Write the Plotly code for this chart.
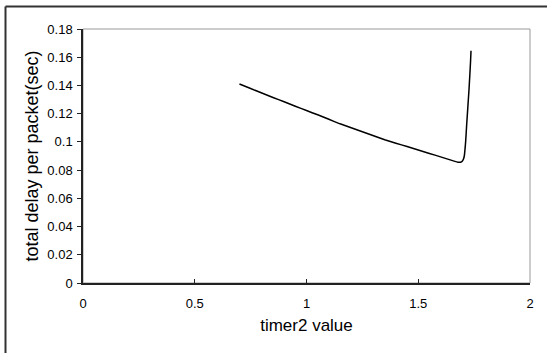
import plotly.graph_objects as go

timer2 = [0.70, 0.75, 0.80, 0.85, 0.90, 0.95, 1.00, 1.05, 1.10, 1.15, 1.20, 1.25,
          1.30, 1.35, 1.40, 1.45, 1.50, 1.55, 1.60, 1.65, 1.68, 1.695, 1.702,
          1.706, 1.712, 1.717, 1.722, 1.727, 1.731, 1.734, 1.736]
delay = [0.1410, 0.1378, 0.1346, 0.1315, 0.1284, 0.1253, 0.1222, 0.1192, 0.1160,
         0.1128, 0.1100, 0.1072, 0.1044, 0.1015, 0.0991, 0.0967, 0.0943, 0.0918,
         0.0894, 0.0869, 0.0855, 0.0860, 0.0877, 0.0900, 0.1000, 0.1130, 0.1250,
         0.1368, 0.1480, 0.1570, 0.1646]

x_ticks = [0, 0.5, 1, 1.5, 2]
y_ticks = [0, 0.02, 0.04, 0.06, 0.08, 0.1, 0.12, 0.14, 0.16, 0.18]

W, H = 547, 353
L, R, T, B = 83, 17, 29, 70
pw, ph = W - L - R, H - T - B

fig = go.Figure()
fig.add_trace(go.Scatter(x=timer2, y=delay, mode="lines",
                         line=dict(color="black", width=1.5, shape="spline", smoothing=0.3),
                         showlegend=False, hoverinfo="skip"))

font = "Liberation Sans, Arial, sans-serif"
fig.update_layout(
    width=W, height=H,
    margin=dict(l=L, r=R, t=T, b=B),
    paper_bgcolor="white", plot_bgcolor="white",
    font=dict(family=font, color="black"),
    xaxis=dict(range=[0, 2], tickvals=x_ticks, ticktext=[f"{v:g}" for v in x_ticks],
               showgrid=False, zeroline=False, showline=True, linecolor="#222",
               linewidth=1.5, ticks="inside", ticklen=4, tickcolor="#222",
               tickfont=dict(size=13, family=font), ticklabelstandoff=8,
               title=dict(text="timer2 value", font=dict(size=17, family=font), standoff=9)),
    yaxis=dict(range=[0, 0.18], tickvals=y_ticks, ticktext=[f"{v:g}" for v in y_ticks],
               showgrid=False, zeroline=False, showline=True, linecolor="#222",
               linewidth=1.5, ticks="outside", ticklen=4, tickcolor="#222",
               tickfont=dict(size=13, family=font), ticklabelstandoff=2,
               title=dict(text="total delay per packet(sec)", font=dict(size=18, family=font),
                          standoff=4)),
)

# light gray plot border (top and right)
fig.add_shape(type="rect", xref="paper", yref="paper", x0=0, y0=0, x1=1, y1=1,
              line=dict(color="#999", width=1), layer="below")

# outer frame (left and top edges visible)
fx = (5.5 - L) / pw
fy = (H - B - 6.5) / ph
fig.add_shape(type="line", xref="paper", yref="paper", x0=fx, y0=fy, x1=1.2, y1=fy,
              line=dict(color="#333", width=2))
fig.add_shape(type="line", xref="paper", yref="paper", x0=fx, y0=fy, x1=fx, y1=-0.5,
              line=dict(color="#333", width=2))

fig.write_html("out.html")
